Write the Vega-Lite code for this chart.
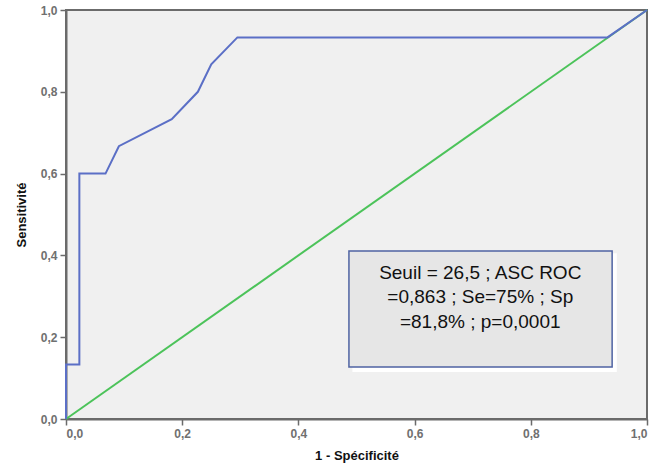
{
  "$schema": "https://vega.github.io/schema/vega-lite/v6.json",
  "autosize": "none",
  "width": 581,
  "height": 409,
  "padding": {"left": 66, "top": 10, "right": 19, "bottom": 55},
  "background": "white",
  "config": {
    "view": {"fill": "#f0f0f0", "stroke": "#6b6b6b", "strokeWidth": 2},
    "axis": {
      "grid": false,
      "domainColor": "#6b6b6b",
      "domainWidth": 2,
      "tickColor": "#6b6b6b",
      "tickWidth": 1.5,
      "tickSize": 6,
      "labelFont": "Liberation Sans",
      "labelFontSize": 12,
      "labelFontWeight": "bold",
      "labelColor": "#707070",
      "titleFont": "Liberation Sans",
      "titleFontSize": 13,
      "titleFontWeight": "bold",
      "titleColor": "#111111"
    }
  },
  "datasets": {
    "roc": [
      {"fpr": 0.0, "tpr": 0.0},
      {"fpr": 0.0, "tpr": 0.133},
      {"fpr": 0.023, "tpr": 0.133},
      {"fpr": 0.023, "tpr": 0.6},
      {"fpr": 0.068, "tpr": 0.6},
      {"fpr": 0.091, "tpr": 0.667},
      {"fpr": 0.182, "tpr": 0.733},
      {"fpr": 0.227, "tpr": 0.8},
      {"fpr": 0.25, "tpr": 0.867},
      {"fpr": 0.295, "tpr": 0.933},
      {"fpr": 0.932, "tpr": 0.933},
      {"fpr": 1.0, "tpr": 1.0}
    ],
    "ref": [
      {"fpr": 0.0, "tpr": 0.0},
      {"fpr": 1.0, "tpr": 1.0}
    ]
  },
  "layer": [
    {
      "data": {"name": "ref"},
      "mark": {"type": "line", "color": "#4cc35a", "strokeWidth": 2},
      "encoding": {
        "x": {
          "field": "fpr", "type": "quantitative",
          "scale": {"domain": [0, 1], "nice": false, "zero": false},
          "axis": {
            "title": "1 - Spécificité",
            "values": [0, 0.2, 0.4, 0.6, 0.8, 1],
            "labelExpr": "replace(format(datum.value, '.1f'), '.', ',')",
            "labelPadding": 3,
            "titlePadding": 10
          }
        },
        "y": {
          "field": "tpr", "type": "quantitative",
          "scale": {"domain": [0, 1], "nice": false, "zero": false},
          "axis": {
            "title": "Sensitivité",
            "values": [0, 0.2, 0.4, 0.6, 0.8, 1],
            "labelExpr": "replace(format(datum.value, '.1f'), '.', ',')",
            "labelPadding": 3,
            "titlePadding": 12
          }
        }
      }
    },
    {
      "data": {"name": "roc"},
      "mark": {"type": "line", "color": "#5b6fc6", "strokeWidth": 2, "interpolate": "linear"},
      "encoding": {
        "x": {"field": "fpr", "type": "quantitative"},
        "y": {"field": "tpr", "type": "quantitative"},
        "order": {"field": "fpr", "type": "quantitative"}
      }
    },
    {
      "data": {"values": [{}]},
      "mark": {"type": "rect", "fill": "#ffffff"},
      "encoding": {
        "x": {"datum": 0.493},
        "x2": {"datum": 0.948},
        "y": {"datum": 0.115},
        "y2": {"datum": 0.405}
      }
    },
    {
      "data": {"values": [{}]},
      "mark": {"type": "rect", "fill": "#e6e6e6", "stroke": "#4f63a3", "strokeWidth": 1.5},
      "encoding": {
        "x": {"datum": 0.487},
        "x2": {"datum": 0.940},
        "y": {"datum": 0.127},
        "y2": {"datum": 0.411}
      }
    },
    {
      "data": {"values": [{}]},
      "mark": {"type": "text", "font": "Liberation Sans", "fontSize": 19, "lineHeight": 24.5, "color": "#111111", "align": "center", "baseline": "middle"},
      "encoding": {
        "x": {"datum": 0.713},
        "y": {"datum": 0.357},
        "text": {"value": ["Seuil = 26,5 ; ASC ROC", "=0,863 ; Se=75% ; Sp", "=81,8% ; p=0,0001"]}
      }
    }
  ]
}
